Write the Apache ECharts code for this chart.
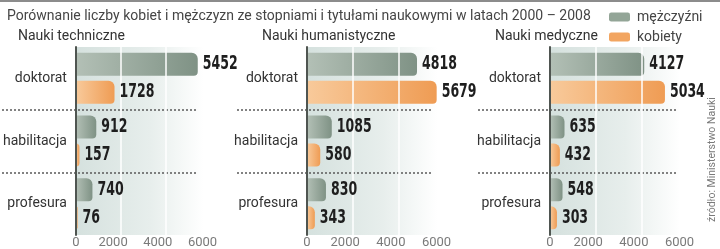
<!DOCTYPE html>
<html><head><meta charset="utf-8">
<script src="https://cdn.jsdelivr.net/npm/echarts@6/dist/echarts.min.js"></script>
<style>html,body{margin:0;padding:0;background:#fff}#c{width:720px;height:249px}</style>
</head><body><div id="c"></div>
<script>
const titleText = 'Porównanie liczby kobiet i mężczyzn ze stopniami i tytułami naukowymi w latach 2000 – 2008';
const sourceText = 'źródło: Ministerstwo Nauki';
const categories = ['doktorat', 'habilitacja', 'profesura'];
const panelNames = ['Nauki techniczne', 'Nauki humanistyczne', 'Nauki medyczne'];
const seriesNames = ['mężczyźni', 'kobiety'];
const menTech = [5452, 912, 740];
const womenTech = [1728, 157, 76];
const menHum = [4818, 1085, 830];
const womenHum = [5679, 580, 343];
const menMed = [4127, 635, 548];
const womenMed = [5034, 432, 303];
const xTicks = [0, 2000, 4000, 6000];

const men = [menTech, menHum, menMed];
const women = [womenTech, womenHum, womenMed];

const FONT = 'Roboto, "Open Sans", sans-serif';
const gridLefts = [72, 307, 550];
const gridWidths = [138, 137, 137];
const sepLefts = [2, 237, 478];
const sepWidths = [195, 195, 199];
const TOP = 47, BOTTOM = 13;
const BW = 23, GAP = 5;

function lg(c0, c1) {
  return new echarts.graphic.LinearGradient(0, 0, 1, 0, [{offset: 0, color: c0}, {offset: 1, color: c1}]);
}

function renderValueLabel(params, api) {
  const v = api.value(0), c = api.value(1), slot = api.value(2);
  const p = api.coord([v, c]);
  const off = (slot - 0.5) * (BW + GAP);
  return {
    type: 'text', x: p[0] + 5, y: p[1] + off, scaleX: 0.66,
    style: {text: String(v), fontSize: 19, fontWeight: 'bold', fontFamily: '"DejaVu Sans", sans-serif',
      fill: '#1e1e1e', align: 'left', verticalAlign: 'middle'}
  };
}

const grids = [], xAxes = [], yAxes = [], series = [];
for (let i = 0; i < 3; i++) {
  grids.push({left: gridLefts[i], width: gridWidths[i], top: TOP, bottom: BOTTOM, show: true, borderWidth: 0,
    backgroundColor: new echarts.graphic.LinearGradient(0, 0, 1, 0, [
      {offset: 0, color: '#d5e1de'}, {offset: 0.55, color: '#e7eeec'}, {offset: 0.95, color: '#ffffff'}])});
  xAxes.push({gridIndex: i, type: 'value', min: xTicks[0], max: xTicks[xTicks.length - 1], interval: xTicks[1] - xTicks[0], z: 3,
    axisLine: {show: false}, axisTick: {show: false},
    splitLine: {show: true, showMinLine: false, showMaxLine: false, lineStyle: {color: '#ffffff', width: 1.5}},
    axisLabel: {margin: 1, color: '#7a7a7a', fontSize: 13, fontFamily: FONT,
      formatter: v => v === 0 ? '{z|0}' : '{n|' + v + '}',
      rich: {z: {fontSize: 13, color: '#7a7a7a', fontFamily: FONT}, n: {fontSize: 13, color: '#7a7a7a', fontFamily: FONT, padding: [0, 15, 0, 0]}}}});
  yAxes.push({gridIndex: i, type: 'category', data: categories, inverse: true, z: 4,
    axisLine: {show: true, lineStyle: {color: '#4f5551', width: 2}}, axisTick: {show: false},
    axisLabel: {margin: 9, color: '#333', fontSize: 14, fontFamily: FONT}});
  series.push({type: 'bar', name: seriesNames[0], xAxisIndex: i, yAxisIndex: i, data: men[i], barWidth: BW, barGap: (GAP / BW * 100) + '%',
    itemStyle: {color: lg('#b3c0b6', '#7f9285'), borderRadius: [0, 6, 4, 0]}});
  series.push({type: 'bar', name: seriesNames[1], xAxisIndex: i, yAxisIndex: i, data: women[i], barWidth: BW, barGap: (GAP / BW * 100) + '%',
    itemStyle: {color: lg('#f8ca9b', '#ef9c54'), borderRadius: [0, 6, 4, 0]}});
  const lblData = [];
  categories.forEach((c, j) => { lblData.push([men[i][j], j, 0]); lblData.push([women[i][j], j, 1]); });
  series.push({type: 'custom', xAxisIndex: i, yAxisIndex: i, z: 6, silent: true, data: lblData, renderItem: renderValueLabel,
    encode: {x: 0, y: 1}, clip: false});
}
// separator grids (dotted category boundaries)
for (let i = 0; i < 3; i++) {
  grids.push({left: sepLefts[i], width: sepWidths[i], top: TOP, bottom: BOTTOM});
  xAxes.push({gridIndex: 3 + i, type: 'value', show: false, min: 0, max: 1});
  yAxes.push({gridIndex: 3 + i, type: 'category', data: categories, inverse: true,
    axisLine: {show: false}, axisTick: {show: false}, axisLabel: {show: false},
    splitLine: {show: true, showMinLine: false, showMaxLine: false, lineStyle: {color: '#5a5a5a', width: 1.5, type: [2, 2]}}});
}

const titles = [{text: titleText, left: 2, top: 4, textStyle: {fontSize: 14, fontWeight: 'normal', color: '#454545', fontFamily: FONT}}];
const titleLefts = [13, 257, 490];
for (let i = 0; i < 3; i++) {
  titles.push({text: panelNames[i], left: titleLefts[i], top: 24, textStyle: {fontSize: 14, fontWeight: 'normal', color: '#333', fontFamily: FONT}});
}

const chart = echarts.init(document.getElementById('c'), null, {renderer: 'canvas'});
chart.setOption({
  animation: false,
  title: titles,
  legend: {orient: 'vertical', left: 604, top: 5, itemWidth: 21, itemHeight: 9, itemGap: 6,
    icon: 'roundRect',
    textStyle: {fontSize: 14, color: '#444', fontFamily: FONT, padding: [0, 0, 0, 2]},
    data: [{name: seriesNames[0], itemStyle: {color: '#93a597'}}, {name: seriesNames[1], itemStyle: {color: '#f2a560'}}]},
  grid: grids, xAxis: xAxes, yAxis: yAxes, series: series,
  graphic: [
    {type: 'rect', left: 0, top: 0, shape: {width: 720, height: 2}, style: {fill: '#8c8c8c'}},
    {type: 'text', x: 707, y: 222, rotation: Math.PI / 2, style: {text: sourceText, fontSize: 10.5, fill: '#7a7a7a', fontFamily: FONT}}
  ]
});
</script></body></html>
